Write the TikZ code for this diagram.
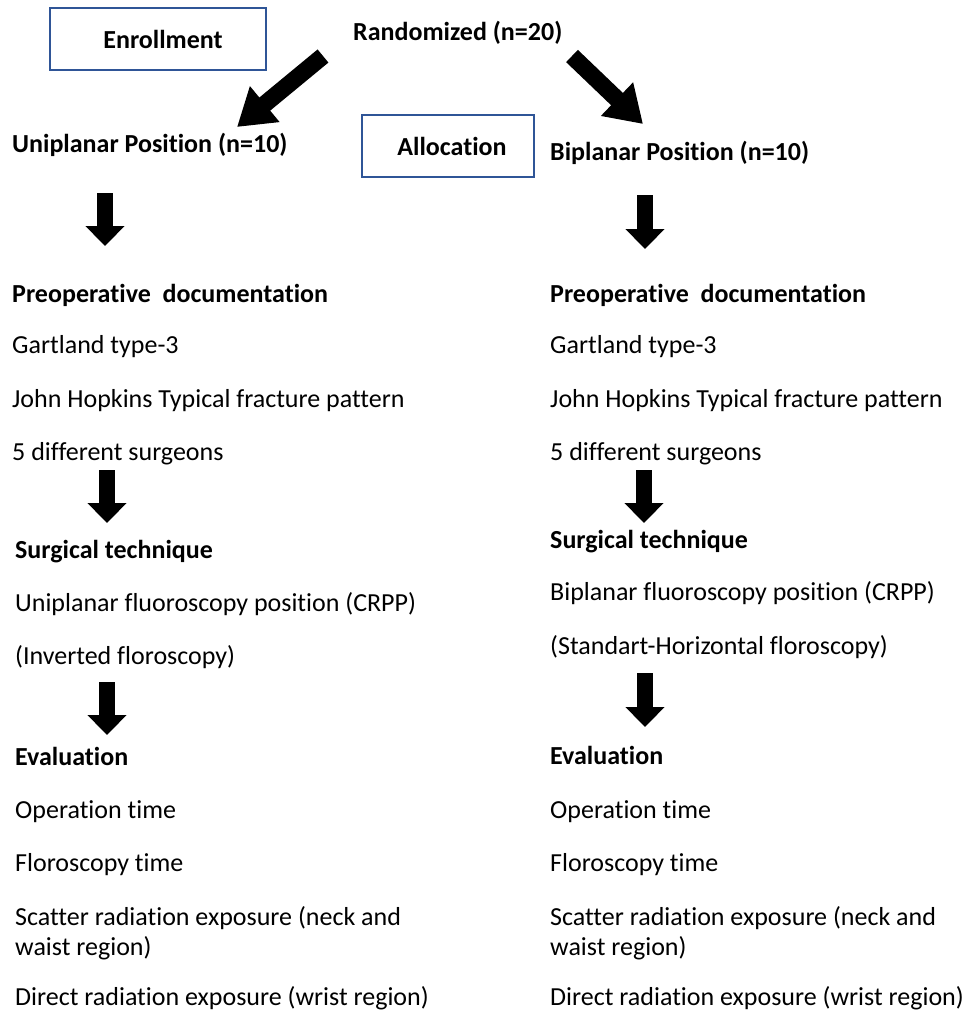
\documentclass[tikz,border=0pt]{standalone}
\usepackage{fontspec}
\setmainfont{Carlito}[Ligatures=NoCommon]
\usetikzlibrary{arrows.meta}
\definecolor{boxblue}{HTML}{2F5597}
\tikzset{
  txt/.style={anchor=base west, inner sep=0pt, font=\fontsize{26}{31}\selectfont},
  hd/.style={txt, font=\fontsize{26}{31}\selectfont\bfseries},
  labbox/.style={draw=boxblue, line width=2pt, minimum width=216pt, minimum height=62pt, inner sep=0pt, font=\fontsize{26}{31}\selectfont\bfseries},
  downarr/.style={line width=16pt, -{Triangle[length=20pt 0 0, width=38pt 0 0]}},
  diagarr/.style={line width=17pt, -{Triangle[length=36pt 0 0, width=44pt 0 0]}}
}
\begin{document}
\begin{tikzpicture}[x=1pt, y=-1pt]
\useasboundingbox (0,0) rectangle (967,1012);

% boxes
\node[labbox] (enroll) at (158,39) {\hspace*{10pt}Enrollment};
\node[labbox, minimum width=172pt] (alloc) at (448,146) {\hspace*{8pt}Allocation};

% top
\node[hd] (rand) at (353,40) {Randomized (n=20)};

% left column
\node[hd]  (uni)  at (12,152) {Uniplanar Position (n=10)};
\node[hd]  (preL) at (12,302) {Preoperative~~documentation};
\node[txt] (gaL)  at (12,353) {Gartland type-3};
\node[txt] (joL)  at (12,407) {John Hopkins Typical fracture pattern};
\node[txt] (fiL)  at (12,460) {5 different surgeons};
\node[hd]  (suL)  at (15,558) {Surgical technique};
\node[txt] (ufL)  at (15,611) {Uniplanar fluoroscopy position (CRPP)};
\node[txt] (ivL)  at (15,664) {(Inverted floroscopy)};
\node[hd]  (evL)  at (15,765) {Evaluation};
\node[txt] (opL)  at (15,818) {Operation time};
\node[txt] (flL)  at (15,871) {Floroscopy time};
\node[txt] (scL)  at (15,925) {\vtop{\baselineskip=30pt\hbox{Scatter radiation exposure (neck and}\hbox{waist region)}}};
\node[txt] (drL)  at (15,1005) {Direct radiation exposure (wrist region)};

% right column
\node[hd]  (bi)   at (550,160) {Biplanar Position (n=10)};
\node[hd]  (preR) at (550,302) {Preoperative~~documentation};
\node[txt] (gaR)  at (550,353) {Gartland type-3};
\node[txt] (joR)  at (550,407) {John Hopkins Typical fracture pattern};
\node[txt] (fiR)  at (550,460) {5 different surgeons};
\node[hd]  (suR)  at (550,548) {Surgical technique};
\node[txt] (bfR)  at (550,600) {Biplanar fluoroscopy position (CRPP)};
\node[txt] (stR)  at (550,654) {(Standart-Horizontal floroscopy)};
\node[hd]  (evR)  at (550,764) {Evaluation};
\node[txt] (opR)  at (550,818) {Operation time};
\node[txt] (flR)  at (550,871) {Floroscopy time};
\node[txt] (scR)  at (550,925) {\vtop{\baselineskip=30pt\hbox{Scatter radiation exposure (neck and}\hbox{waist region)}}};
\node[txt] (drR)  at (550,1005) {Direct radiation exposure (wrist region)};

% diagonal arrows
\draw[diagarr] ([xshift=-30pt,yshift=-16pt]rand.base west) -- ([xshift=225pt,yshift=25pt]uni.base west);
\draw[diagarr] ([xshift=219pt,yshift=-16pt]rand.base west) -- ([xshift=93pt,yshift=36pt]bi.base west);

% down arrows left
\draw[downarr] ([xshift=93pt,yshift=-41pt]uni.base west) -- ([xshift=93pt,yshift=56pt]preL.base west);
\draw[downarr] ([xshift=95pt,yshift=-10pt]fiL.base west) -- ([xshift=92pt,yshift=35pt]suL.base west);
\draw[downarr] ([xshift=92pt,yshift=-18pt]ivL.base west) -- ([xshift=92pt,yshift=30pt]evL.base west);

% down arrows right
\draw[downarr] ([xshift=95pt,yshift=-35pt]bi.base west) -- ([xshift=95pt,yshift=53pt]preR.base west);
\draw[downarr] ([xshift=94pt,yshift=-10pt]fiR.base west) -- ([xshift=94pt,yshift=25pt]suR.base west);
\draw[downarr] ([xshift=95pt,yshift=-19pt]stR.base west) -- ([xshift=95pt,yshift=37pt]evR.base west);
\end{tikzpicture}
\end{document}
